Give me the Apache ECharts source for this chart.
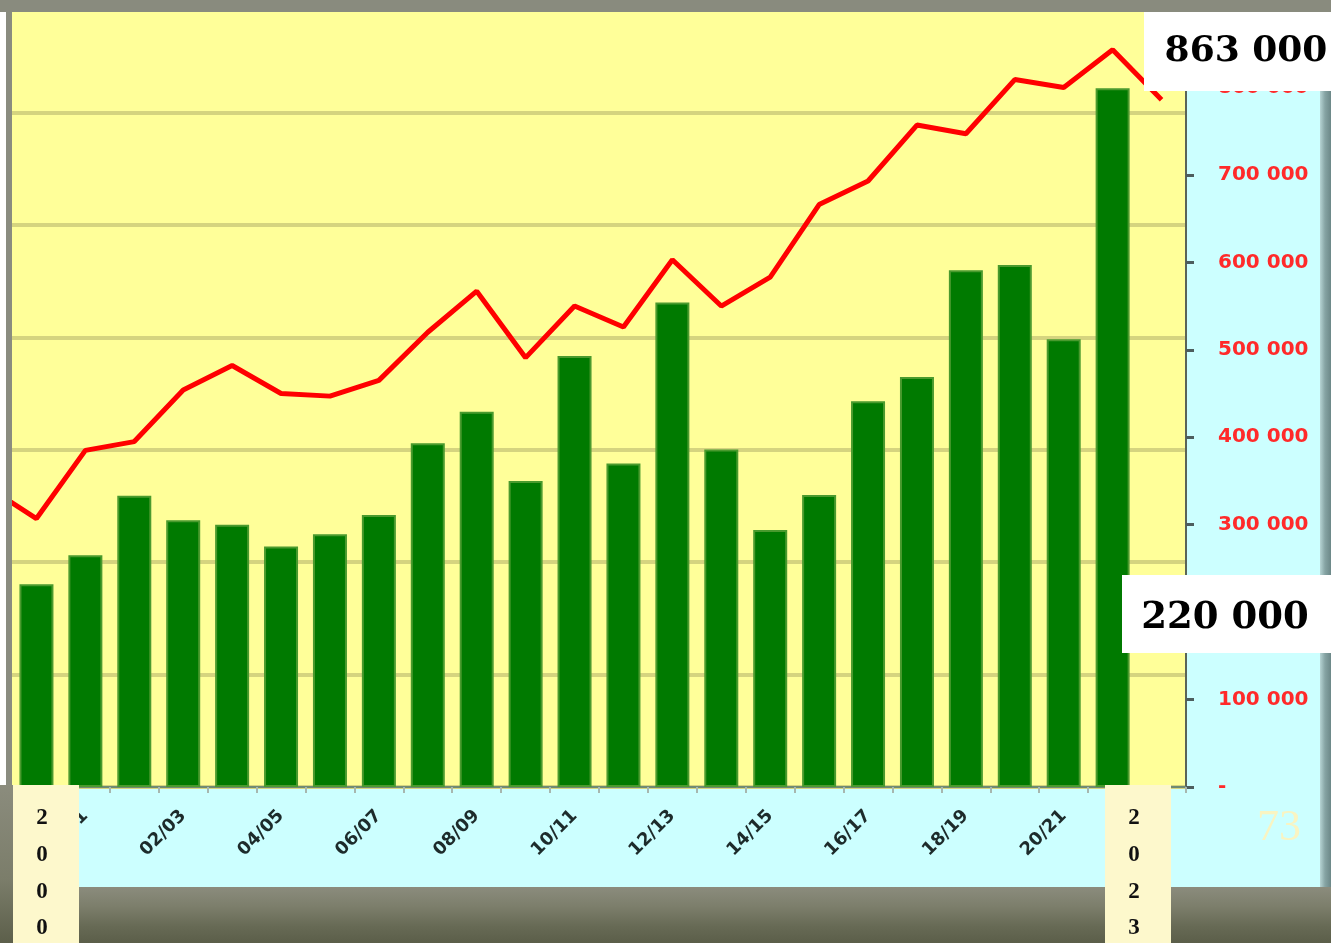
<!DOCTYPE html>
<html>
<head>
<meta charset="utf-8">
<script src="https://cdn.jsdelivr.net/npm/echarts@6/dist/echarts.min.js"></script>
<style>
    html, body { margin: 0; padding: 0; width: 1331px; height: 943px; overflow: hidden; }
    body { position: relative; background: #84867a; }
    #panel { position: absolute; left: 12px; top: 12px; width: 1308px; height: 875px; background: #ccffff; }
    #edge { position: absolute; left: 1320px; top: 12px; width: 11px; height: 875px;
            background: linear-gradient(90deg, #b6d4d4 0%, #86a4a4 45%, #6c8888 100%); }
    #ground { position: absolute; left: 0; top: 887px; width: 1331px; height: 56px;
              background: linear-gradient(180deg, #8b8c7d 0%, #7c7e6b 35%, #676a55 70%, #5b5e49 100%); }
    #chart { position: absolute; left: 0; top: 0; width: 1331px; height: 943px; }
</style>
</head>
<body>
<div id="panel"></div>
<div id="edge"></div>
<div id="ground"></div>
<div id="chart"></div>
<script>
// first season (98/99) sits just left of the cropped picture, only its line end shows
var seasons = ['98/99', '99/00', '00/01', '01/02', '02/03', '03/04', '04/05', '05/06', '06/07',
    '07/08', '08/09', '09/10', '10/11', '11/12', '12/13', '13/14', '14/15', '15/16',
    '16/17', '17/18', '18/19', '19/20', '20/21', '21/22', '22/23'];

var barValues = [null, 232000, 265000, 333000, 305000, 300000, 275000, 289000, 311000,
    393000, 429000, 350000, 493000, 370000, 554000, 386000, 294000, 334000,
    441000, 469000, 591000, 597000, 512000, 799000, null];

var lineValues = [343000, 307000, 385000, 395000, 454000, 482000, 450000, 447000, 465000,
    520000, 567000, 491000, 550000, 526000, 603000, 550000, 583000, 666000,
    693000, 757000, 747000, 809000, 800000, 843000, 786000];

var rightMin = 0, rightMax = 900000, rightStep = 100000;
var gridMin = 0, gridMax = 7, gridStep = 1;

var notes = { top: '863 000', low: '220 000', startYear: '2000', endYear: '2023', page: '73' };

var chartDom = document.getElementById('chart');
var chart = echarts.init(chartDom, null, { renderer: 'canvas' });

function fmtRight(v) {
    if (v === 0) return '-';
    return (v / 1000) + ' 000';
}

function stacked(s) {
    return s.split('').join('\n');
}

var stone = {
    type: 'linear', x: 0, y: 0, x2: 0, y2: 1,
    colorStops: [
        { offset: 0, color: '#8b8c7d' },
        { offset: 0.6, color: '#7b7d6a' },
        { offset: 1, color: '#5c5f4a' }
    ]
};

var option = {
    animation: false,
    grid: {
        left: -36.92,
        right: 145,
        top: 0,
        bottom: 156,
        show: true,
        backgroundColor: '#ffff99',
        borderWidth: 0,
        outerBoundsMode: 'none'
    },
    xAxis: {
        type: 'category',
        data: seasons,
        boundaryGap: true,
        axisLine: { show: true, lineStyle: { color: '#6f8a72', width: 2 } },
        axisTick: { show: true, interval: 0, length: 6, lineStyle: { color: '#a7b7af', width: 2 } },
        axisLabel: {
            interval: 1,
            rotate: 45,
            margin: 26,
            color: '#1d2b2b',
            fontSize: 18,
            fontWeight: 'bold',
            fontFamily: 'DejaVu Sans'
        },
        splitLine: { show: false }
    },
    yAxis: [{
        type: 'value',
        position: 'right',
        min: rightMin,
        max: rightMax,
        interval: rightStep,
        axisLine: { show: true, lineStyle: { color: '#5a6458', width: 2 } },
        axisTick: { show: true, length: 8, lineStyle: { color: '#4d5d5d', width: 3 } },
        axisLabel: {
            margin: 32,
            color: '#ff2a2a',
            fontSize: 20,
            fontWeight: 'bold',
            fontFamily: 'DejaVu Sans',
            formatter: fmtRight
        },
        splitLine: { show: false }
    }, {
        type: 'value',
        position: 'left',
        min: gridMin,
        max: gridMax,
        interval: gridStep,
        axisLine: { show: false },
        axisTick: { show: false },
        axisLabel: { show: false },
        splitLine: { show: true, lineStyle: { color: '#d5d47f', width: 4 } }
    }],
    series: [
        {
            name: 'bars',
            type: 'bar',
            yAxisIndex: 0,
            barWidth: 34,
            itemStyle: {
                color: '#007a00',
                borderColor: '#4a9a2e',
                borderWidth: 2
            },
            data: barValues
        },
        {
            name: 'line',
            type: 'line',
            yAxisIndex: 0,
            symbol: 'none',
            z: 3,
            lineStyle: { color: '#ff0000', width: 5 },
            data: lineValues
        }
    ],
    graphic: [
        // frame of the slide around the cropped chart
        { type: 'rect', z: 100, shape: { x: 0, y: 0, width: 1331, height: 12 }, style: { fill: '#898b7e' } },
        { type: 'rect', z: 100, shape: { x: 0, y: 12, width: 6, height: 773 }, style: { fill: '#ffffff' } },
        { type: 'rect', z: 100, shape: { x: 6, y: 12, width: 6, height: 775 }, style: { fill: '#8a8c7f' } },
        { type: 'rect', z: 100, shape: { x: 0, y: 785, width: 13, height: 158 }, style: { fill: stone } },

        // highlighted values
        { type: 'rect', z: 101, shape: { x: 1144, y: 12, width: 187, height: 79 }, style: { fill: '#ffffff' } },
        {
            type: 'text', z: 102, x: 1246, y: 52,
            style: { text: notes.top, fill: '#000', font: 'bold 36px "DejaVu Serif"', align: 'center', verticalAlign: 'middle' }
        },
        { type: 'rect', z: 101, shape: { x: 1122, y: 575, width: 209, height: 78 }, style: { fill: '#ffffff' } },
        {
            type: 'text', z: 102, x: 1225, y: 618,
            style: { text: notes.low, fill: '#000', font: 'bold 37px "DejaVu Serif"', align: 'center', verticalAlign: 'middle' }
        },

        // year tags
        { type: 'rect', z: 101, shape: { x: 13, y: 785, width: 66, height: 158 }, style: { fill: '#fdf8cc' } },
        {
            type: 'text', z: 102, x: 42, y: 800,
            style: { text: stacked(notes.startYear), fill: '#111', font: 'bold 23px "Liberation Serif"', lineHeight: 36.7, align: 'center', verticalAlign: 'top' }
        },
        { type: 'rect', z: 101, shape: { x: 1105, y: 785, width: 66, height: 158 }, style: { fill: '#fdf8cc' } },
        {
            type: 'text', z: 102, x: 1134, y: 800,
            style: { text: stacked(notes.endYear), fill: '#111', font: 'bold 23px "Liberation Serif"', lineHeight: 36.7, align: 'center', verticalAlign: 'top' }
        },

        // slide number
        {
            type: 'text', z: 102, x: 1279, y: 828,
            style: { text: notes.page, fill: '#f9f4c2', font: '44px "Liberation Serif"', align: 'center', verticalAlign: 'middle' }
        }
    ]
};

option && chart.setOption(option);
</script>
</body>
</html>
